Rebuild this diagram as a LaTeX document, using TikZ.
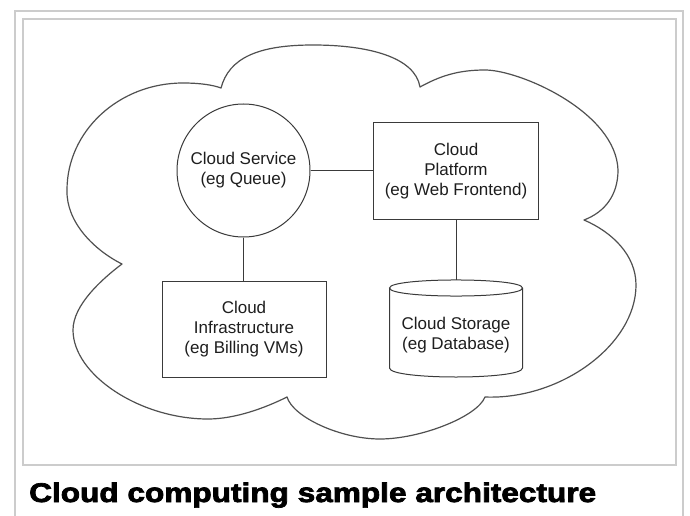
\documentclass[tikz,border=0pt]{standalone}
\usepackage{fontspec}
\setmainfont{Liberation Sans}
\newfontfamily\capfont[FakeBold=2.6]{Liberation Sans Bold}
\usepackage{graphicx}
\definecolor{framegray}{HTML}{CCCCCC}
\definecolor{inkgray}{HTML}{3A3A3A}
\definecolor{cloudgray}{HTML}{505050}
\definecolor{txtcol}{HTML}{1E1E1E}
\begin{document}
\begin{tikzpicture}[x=1pt,y=-1pt,
  frameline/.style={draw=framegray,line width=1.6pt},
  cloudline/.style={draw=cloudgray,line width=1.2pt,line join=round},
  link/.style={draw=inkgray,line width=1pt},
  boxlbl/.style={font=\fontsize{17}{20}\selectfont,text=txtcol,align=center},
  svcbox/.style={boxlbl,draw=inkgray,line width=1pt,circle,minimum size=133pt,inner sep=0pt},
  rectbox/.style={boxlbl,draw=inkgray,line width=1pt,rectangle,inner sep=0pt},
  cylline/.style={draw=inkgray,line width=1pt},
  ]
\useasboundingbox[fill=white] (0,0) rectangle (690,516);
% frames
\draw[frameline] (15,516) -- (15,11) -- (683,11) -- (683,516);
\draw[frameline] (23,19) rectangle (676,465);
% cloud outline
\draw[cloudline] (122,264)
 .. controls (94,250) and (66,222) .. (67,190)
 .. controls (67,131) and (119,83) .. (183,83)
 .. controls (200,83) and (213,85) .. (221,88)
 .. controls (229,58) and (258,45) .. (313,45)
 .. controls (368,45) and (415,57) .. (420,87)
 .. controls (440,76) and (458,70) .. (485,70)
 .. controls (520,70) and (616,112) .. (618,170)
 .. controls (618,195) and (605,212) .. (584,220)
 .. controls (612,232) and (636,255) .. (636,285)
 .. controls (636,345) and (560,400) .. (485,397)
 .. controls (477,417) and (420,439) .. (380,439)
 .. controls (340,439) and (293,417) .. (287,397)
 .. controls (265,408) and (235,419) .. (208,419)
 .. controls (140,419) and (73,375) .. (73,330)
 .. controls (73,305) and (102,279) .. (122,264) -- cycle;
% nodes
\node[svcbox] (svc) at (243.5,170.5) {Cloud Service\\(eg Queue)};
\node[rectbox,minimum width=165pt,minimum height=96pt] (plat) at (456,171) {Cloud\\Platform\\(eg Web Frontend)};
\node[rectbox,minimum width=164pt,minimum height=96pt] (infra) at (244,329) {Cloud\\Infrastructure\\(eg Billing VMs)};
\node[boxlbl,inner sep=0pt] (stor) at (456,335) {Cloud Storage\\(eg Database)};
\coordinate (stortop) at (456,280);
% cylinder outline
\draw[cylline] (389.5,288) .. controls (389.5,277.3) and (522.5,277.3) .. (522.5,288)
  .. controls (522.5,298.7) and (389.5,298.7) .. (389.5,288) -- cycle;
\draw[cylline] (389.5,288) -- (389.5,368) .. controls (389.5,380) and (522.5,380) .. (522.5,368) -- (522.5,288);
% connectors
\draw[link] (svc.east) -- (svc.east -| plat.west);
\draw[link] (svc.south) -- (svc.south |- infra.north);
\draw[link] (plat.south) -- (stortop);
% caption
\node[anchor=base west,inner sep=0pt,text=black] (cap) at (29,502)
  {\capfont\fontsize{27}{30}\selectfont\scalebox{1.17}[1]{Cloud computing sample architecture}};
\end{tikzpicture}
\end{document}
